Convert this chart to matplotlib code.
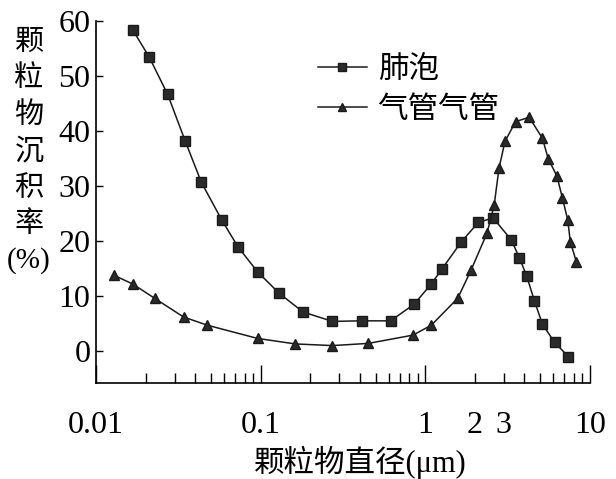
import numpy as np
import matplotlib
matplotlib.use("Agg")
import matplotlib.pyplot as plt
from matplotlib.ticker import LogLocator, NullFormatter, FixedLocator

# 肺泡 (squares)
alv_d = [0.0167, 0.0210, 0.0272, 0.0348, 0.0436, 0.0581, 0.0730, 0.0958, 0.1296,
         0.181, 0.273, 0.410, 0.615, 0.853, 1.087, 1.26, 1.658, 2.10, 2.58,
         3.33, 3.72, 4.12, 4.60, 5.14, 6.09, 7.39]
alv_v = [58.4, 53.5, 46.7, 38.2, 30.7, 23.8, 18.9, 14.4, 10.5,
         7.1, 5.4, 5.5, 5.5, 8.5, 12.2, 14.9, 19.9, 23.4, 24.2,
         20.2, 17.0, 13.7, 9.1, 4.9, 1.6, -1.0]

# 气管气管 (triangles)
tra_d = [0.0128, 0.0167, 0.0227, 0.0340, 0.0475, 0.0958, 0.1625, 0.273, 0.451,
         0.841, 1.087, 1.573, 1.894, 2.366, 2.618, 2.80, 3.045, 3.53, 4.27,
         5.14, 5.57, 6.30, 6.80, 7.33, 7.59, 8.27]
tra_v = [13.8, 12.2, 9.6, 6.2, 4.7, 2.3, 1.3, 1.0, 1.4,
         2.9, 4.7, 9.6, 14.7, 21.4, 26.5, 33.2, 38.1, 41.7, 42.5,
         38.7, 35.0, 31.8, 27.8, 23.8, 19.9, 16.2]

xticks = [0.01, 0.1, 1, 2, 3, 10]
xtick_labels = ["0.01", "0.1", "1", "2", "3", "10"]
yticks = [0, 10, 20, 30, 40, 50, 60]

serif = ["Liberation Serif", "Noto Sans CJK SC"]
cjk = ["Noto Sans CJK SC", "DejaVu Sans"]

fig = plt.figure(figsize=(6.16, 4.79), dpi=100)
ax = fig.add_axes([96/616, 1-383/479, (590-96)/616, (383-21)/479])

ax.plot(alv_d, alv_v, color="#1a1a1a", lw=1.1, marker="s", ms=7, mfc="#2a2a2a", mec="#1a1a1a", label="肺泡")
ax.plot(tra_d, tra_v, color="#1a1a1a", lw=1.1, marker="^", ms=7.5, mfc="#2a2a2a", mec="#1a1a1a", label="气管气管")

ax.set_xscale("log")
ax.set_xlim(0.01, 10)
ax.set_ylim(-5.8, 60)

ax.spines["top"].set_visible(False)
ax.spines["right"].set_visible(False)
for s in ["left", "bottom"]:
    ax.spines[s].set_linewidth(1.2)

ax.xaxis.set_major_locator(FixedLocator([0.01, 0.1, 1, 10]))
ax.xaxis.set_minor_locator(LogLocator(base=10, subs=np.arange(2, 10)))
ax.xaxis.set_minor_formatter(NullFormatter())
ax.set_xticks(xticks)
ax.set_xticklabels(xtick_labels)
ax.set_yticks(yticks)

ax.tick_params(axis="x", which="major", direction="in", length=13, width=1, pad=20, labelsize=23)
ax.tick_params(axis="x", which="minor", direction="in", length=7, width=1)
ax.tick_params(axis="y", direction="in", length=5, width=1, pad=4, labelsize=23)
for lab in ax.get_xticklabels() + ax.get_yticklabels():
    lab.set_family(serif)

# 2 and 3 only get the short tick
for t in ax.xaxis.get_major_ticks():
    if t.get_loc() in (2, 3):
        t.tick1line.set_markersize(7)

leg = ax.legend(loc="upper left", bbox_to_anchor=(318/616, 1-54/479), bbox_transform=fig.transFigure,
                frameon=False, borderpad=0, borderaxespad=0, handlelength=1.6, handletextpad=0.35,
                labelspacing=0.3, numpoints=1, markerscale=0.75, prop={"family": cjk, "size": 22})

# vertical y label, one character per row
ylab = ["颗", "粒", "物", "沉", "积", "率", "(%)"]
y0, step = 42, 36.5
for i, ch in enumerate(ylab):
    fam = serif if ch == "(%)" else cjk
    fig.text(29/616, 1-(y0+i*step)/479, ch, ha="center", va="center", fontsize=21, family=fam)

fig.text(360/616, 1-462/479, "颗粒物直径(μm)", ha="center", va="center", fontsize=22, family=serif)

fig.savefig("out.png", dpi=100)
